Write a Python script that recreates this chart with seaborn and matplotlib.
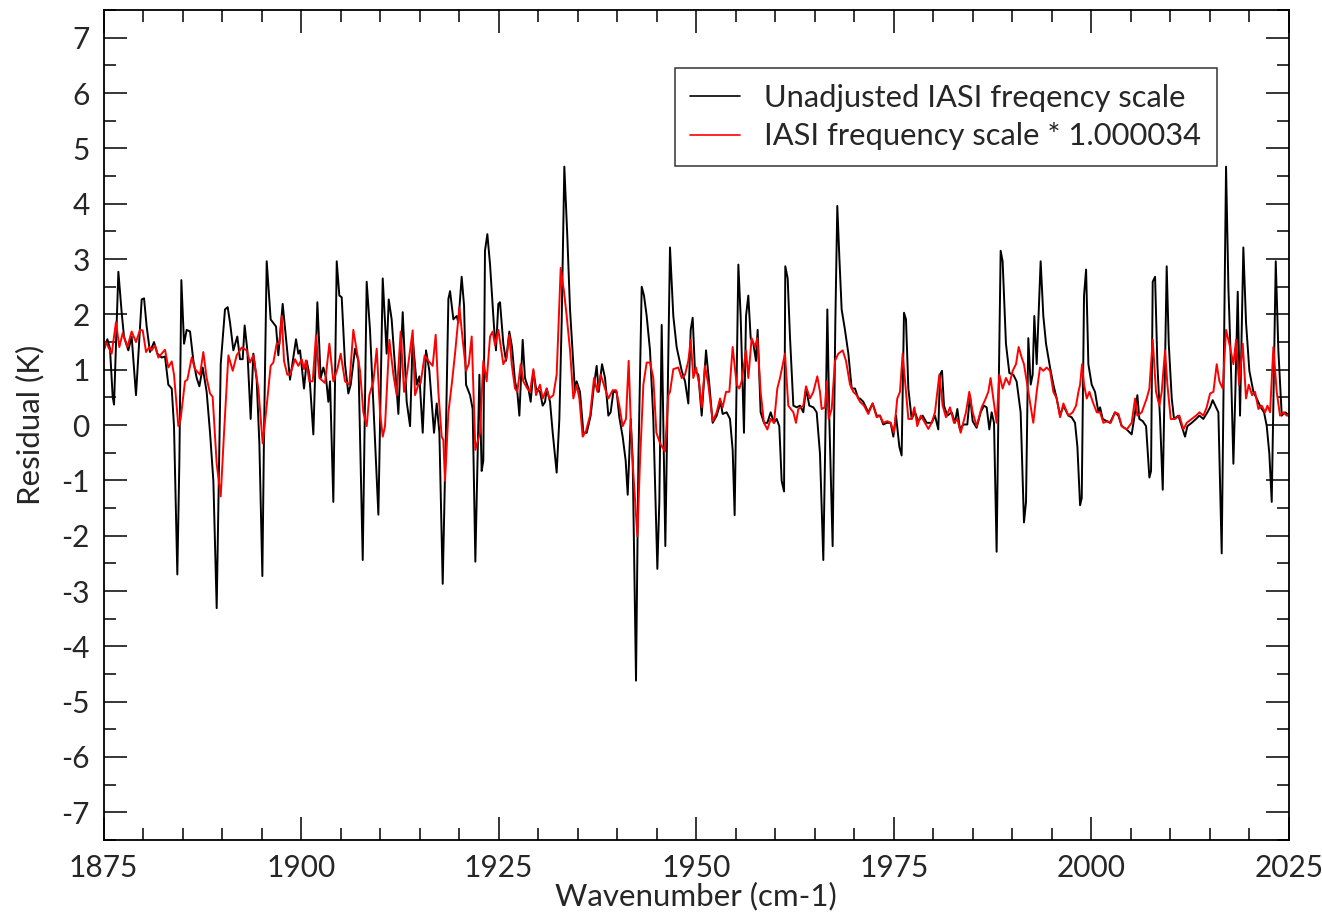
import numpy as np
import pandas as pd
import matplotlib
matplotlib.use('Agg')
import matplotlib.pyplot as plt
import seaborn as sns
from matplotlib.ticker import MultipleLocator

# Residuals (vertices of each trace)
black_wn = [
    1875.0, 1875.49, 1875.82, 1876.16, 1876.33, 1876.88, 1877.30, 1877.59, 1878.14, 1878.56,
    1879.11, 1879.83, 1880.13, 1880.46, 1880.88, 1881.39, 1881.81, 1882.36, 1882.78, 1883.20,
    1883.63, 1883.92, 1884.34, 1884.60, 1884.85, 1885.19, 1885.52, 1885.95, 1886.37, 1886.79,
    1887.13, 1887.55, 1888.05, 1888.48, 1888.90, 1889.32, 1889.83, 1890.37, 1890.71, 1891.01,
    1891.43, 1891.93, 1892.27, 1892.61, 1892.86, 1893.20, 1893.62, 1893.96, 1894.38, 1894.72,
    1895.10, 1895.31, 1895.65, 1896.15, 1896.83, 1897.12, 1897.67, 1898.09, 1898.60,
    1899.36, 1899.65, 1899.87, 1900.37, 1900.71, 1901.05, 1901.55, 1902.06, 1902.48, 1902.82,
    1903.16, 1903.45, 1903.66, 1904.08, 1904.51, 1904.84, 1905.14, 1905.56, 1905.98, 1906.28,
    1906.83, 1907.25, 1907.80, 1908.30, 1908.72, 1909.78, 1910.33, 1910.83, 1911.09, 1911.46,
    1912.31, 1912.86, 1913.36, 1913.79, 1914.12, 1914.63, 1914.97, 1915.39, 1915.81, 1916.23,
    1916.82, 1917.16, 1917.50, 1917.92, 1918.34, 1918.64, 1918.85, 1919.27, 1919.69, 1919.90,
    1920.32, 1920.62, 1920.87, 1921.38, 1921.71, 1922.05, 1922.56,
    1922.85, 1923.06, 1923.27, 1923.57, 1923.91, 1924.41, 1924.66, 1924.96, 1925.17, 1925.59,
    1925.93, 1926.35, 1926.69, 1927.07, 1927.36, 1927.62, 1928.04, 1928.33, 1928.76, 1929.05,
    1929.39, 1929.73, 1930.23, 1930.57, 1930.87, 1931.08, 1931.50, 1931.84, 1932.34, 1932.68,
    1932.97, 1933.31, 1933.69, 1934.03, 1934.37, 1934.66, 1934.87, 1935.29, 1935.72, 1936.14,
    1936.64, 1937.07, 1937.40, 1937.66, 1938.08, 1938.46, 1938.88, 1939.17, 1939.51, 1939.93,
    1940.27, 1940.69, 1941.07, 1941.33, 1941.71, 1941.96, 1942.38, 1942.68, 1943.10, 1943.39,
    1943.73, 1944.15, 1944.57, 1945.08, 1945.33, 1945.63, 1946.09, 1946.47,
    1946.68, 1947.10, 1947.52, 1948.16, 1948.58, 1949.00, 1949.30, 1949.55, 1949.84, 1950.27,
    1950.69, 1951.24, 1951.66, 1952.08, 1952.59, 1953.09, 1953.34, 1953.85, 1954.27, 1954.61,
    1954.86, 1955.12, 1955.33, 1955.62, 1956.04, 1956.30, 1956.59, 1956.89, 1957.23, 1957.56,
    1957.77, 1958.15, 1958.57, 1959.00, 1959.42, 1959.84, 1960.18, 1960.51, 1960.81, 1961.11,
    1961.27, 1961.57, 1961.86, 1962.29, 1962.71, 1963.13, 1963.55, 1963.89, 1964.31, 1964.82,
    1965.24, 1965.66, 1966.08, 1966.29, 1966.59, 1966.84, 1967.26, 1967.60, 1967.85, 1968.11,
    1968.40, 1968.82, 1969.25, 1969.67, 1970.09, 1970.51,
    1970.72, 1971.14, 1971.77, 1972.32, 1972.83, 1973.25, 1973.67, 1974.09, 1974.60, 1974.94,
    1975.28, 1975.70, 1975.99, 1976.29, 1976.54, 1976.84, 1977.26, 1977.68, 1978.10, 1978.65,
    1979.16, 1979.79, 1980.21, 1980.63, 1980.84, 1981.10, 1981.35, 1981.77, 1982.32, 1982.74,
    1983.04, 1983.37, 1983.80, 1984.30, 1984.64, 1984.98, 1985.48, 1985.99, 1986.41, 1986.75,
    1987.09, 1987.38, 1987.68, 1988.01, 1988.27, 1988.52, 1988.77, 1989.19, 1989.62, 1990.12,
    1990.54, 1991.05, 1991.47, 1991.73, 1992.02, 1992.32, 1992.57, 1992.78, 1993.08, 1993.58,
    1993.92, 1994.26,
    1994.77, 1995.19, 1995.61, 1996.04, 1996.46, 1997.09, 1997.51, 1997.93, 1998.23, 1998.57,
    1998.78, 1999.07, 1999.33, 1999.62, 2000.04, 2000.46, 2000.89, 2001.10, 2001.43, 2001.94,
    2002.36, 2002.99, 2003.42, 2003.84, 2004.47, 2005.10, 2005.53, 2005.82, 2006.07, 2006.50,
    2006.92, 2007.34, 2007.55, 2007.76, 2008.06, 2008.35, 2008.69, 2009.03, 2009.32, 2009.53,
    2009.79, 2010.17, 2010.46, 2011.01, 2011.43, 2011.85, 2012.15, 2012.70, 2013.24, 2013.67,
    2014.17, 2014.68, 2015.02, 2015.35, 2015.78, 2016.07, 2016.49, 2016.79, 2017.04, 2017.34,
    2017.63, 2017.97, 2018.22, 2018.52, 2018.81, 2019.23, 2019.57, 2019.99, 2020.50, 2020.92,
    2021.43, 2021.85, 2022.19, 2022.52, 2022.82, 2023.12, 2023.33, 2023.66, 2024.09, 2024.51,
    2024.80, 2025.0,
]
black_res = [
    1.35, 1.55, 1.38, 0.51, 0.37, 2.77, 2.03, 1.60, 1.35, 1.60,
    0.54, 2.27, 2.29, 1.78, 1.32, 1.50, 1.29, 1.22, 1.24, 0.73,
    0.66, -0.02, -2.70, -0.64, 2.62, 1.47, 1.72, 1.69, 1.16, 0.85,
    0.70, 1.04, 0.60, -0.14, -1.01, -3.31, 1.10, 2.09, 2.13, 1.85,
    1.35, 1.60, 1.19, 1.19, 1.80, 1.35, 0.11, 1.29, 0.82, -0.33,
    -2.73, -0.14, 2.96, 1.91, 1.78, 1.26, 2.19, 1.57, 0.82,
    1.55, 1.29, 1.35, 0.66, 1.16, 0.91, -0.17, 2.22, 0.85, 1.04,
    0.85, 0.42, 0.79, -1.39, 2.96, 2.34, 2.31, 1.10, 0.57, 0.73,
    1.38, 1.16, -2.44, 2.59, 1.72, -1.62, 2.65, 1.29, 2.27, 1.91,
    0.20, 2.04, 0.42, -0.02, 1.57, 0.73, 0.88, -0.14, 1.35, 0.98,
    -0.14, 0.39, -0.14, -2.87, -0.02, 2.28, 2.42, 1.91, 1.97, 1.85,
    2.68, 2.16, 0.73, 0.54, 0.29, -2.47, 0.91,
    -0.83, -0.64, 3.15, 3.45, 2.90, 1.78, 1.35, 2.19, 2.22, 1.47,
    1.16, 1.69, 1.41, 0.79, 0.60, 0.17, 1.54, 0.85, 0.66, 0.42,
    0.98, 0.66, 0.60, 0.35, 0.42, 0.66, 0.42, -0.14, -0.86, 0.11,
    1.85, 4.67, 3.40, 2.09, 1.29, 0.60, 0.79, 0.60, -0.14, -0.14,
    0.17, 0.73, 1.07, 0.60, 1.10, 0.85, 0.17, 0.23, 0.60, 0.60,
    0.14, -0.21, -0.64, -1.26, 0.11, -0.64, -4.62, -0.64, 2.50, 2.34,
    1.97, 1.35, 0.11, -2.60, -1.39, 1.81, -2.19, 1.22,
    3.21, 1.97, 1.41, 0.98, 0.79, 0.39, 1.72, 1.94, 0.98, 0.91,
    0.17, 1.35, 0.73, 0.04, 0.17, 0.42, 0.20, 0.23, 0.11, -0.45,
    -1.63, 0.91, 2.90, 1.97, -0.14, 1.97, 2.34, 1.57, 1.47, 1.16,
    1.72, 0.23, 0.04, 0.04, 0.23, 0.04, 0.11, -0.02, -1.01, -1.20,
    2.87, 2.65, 1.60, 0.35, 0.32, 0.35, 0.23, 0.66, 0.35, 0.32,
    0.23, -0.52, -2.44, -0.64, 2.09, 0.11, -2.19, 1.85, 3.96, 3.03,
    2.09, 1.72, 1.29, 0.66, 0.66, 0.48,
    0.48, 0.42, 0.23, 0.39, 0.17, 0.17, 0.01, 0.04, 0.04, -0.21,
    0.17, -0.39, -0.55, 2.03, 1.91, 0.66, 0.11, 0.23, 0.07, 0.17,
    0.04, 0.04, 0.17, -0.08, 0.91, 0.98, 0.35, 0.17, 0.23, 0.04,
    0.29, -0.08, 0.01, 0.01, 0.54, 0.07, -0.05, 0.23, 0.35, 0.32,
    -0.08, 0.23, 0.04, -2.29, 0.60, 3.15, 2.96, 1.47, 0.94, 0.91,
    0.79, 0.23, -1.76, -1.39, 1.57, 0.73, 0.91, 1.97, 1.10, 2.96,
    1.97, 1.47,
    1.04, 0.73, 0.48, 0.17, 0.35, 0.17, 0.14, 0.04, -0.39, -1.45,
    -1.32, 2.34, 2.81, 1.10, 0.73, 0.60, 0.23, 0.32, 0.11, 0.07,
    0.04, 0.23, 0.17, -0.02, -0.08, -0.17, 0.23, 0.54, 0.11, 0.07,
    -0.02, -0.95, -0.83, 2.59, 2.68, 1.10, 0.11, -1.17, 1.10, 2.87,
    1.47, 0.48, 0.11, 0.17, -0.02, -0.21, -0.02, 0.04, 0.11, 0.17,
    0.11, 0.23, 0.32, 0.45, 0.32, 0.23, -2.32, 1.54, 4.67, 2.47,
    1.22, -0.70, 0.60, 2.41, 0.17, 3.21, 1.85, 0.98, 0.60, 0.48,
    0.32, 0.23, -0.02, -0.52, -1.39, 1.22, 2.96, 1.35, 0.17, 0.23,
    0.20, 0.15,
]

red_wn = [
    1875.0, 1875.32, 1875.61, 1876.03, 1876.58, 1877.00, 1877.42, 1878.02, 1878.56, 1879.11,
    1879.62, 1879.96, 1880.38, 1880.80, 1881.09, 1881.52, 1881.94, 1882.78, 1883.20, 1883.63,
    1883.92, 1884.47, 1884.76, 1885.31, 1885.61, 1886.16, 1886.58, 1887.21, 1887.63, 1888.05,
    1888.48, 1888.81, 1889.32, 1889.83, 1890.25, 1890.80, 1891.35, 1891.85, 1892.48, 1893.12,
    1893.54, 1893.96, 1894.59, 1895.14, 1895.65, 1896.15, 1896.49, 1896.91, 1897.25, 1897.55,
    1897.84, 1898.26,
    1898.60, 1899.23, 1899.65, 1900.08, 1900.37, 1900.62, 1901.05, 1901.47, 1901.89, 1902.31,
    1903.03, 1903.58, 1904.08, 1904.59, 1905.01, 1905.56, 1906.11, 1906.61, 1907.04, 1907.46,
    1907.88, 1908.30, 1908.64, 1909.15, 1909.57, 1909.99, 1910.33, 1910.62, 1911.17, 1911.68,
    1912.10, 1912.60, 1913.03, 1913.45, 1914.12, 1914.42, 1914.84, 1915.13, 1915.64, 1916.10,
    1916.65, 1917.03, 1917.37, 1917.79, 1918.00, 1918.21, 1918.64, 1919.06, 1919.48, 1920.03,
    1920.45, 1920.87, 1921.21, 1921.59, 1922.05,
    1922.64, 1923.06, 1923.48, 1923.91, 1924.24, 1924.54, 1924.96, 1925.59, 1926.01, 1926.35,
    1926.65, 1927.07, 1927.36, 1927.79, 1928.12, 1928.63, 1928.97, 1929.39, 1929.73, 1930.23,
    1930.57, 1931.08, 1931.41, 1931.92, 1932.34, 1932.85, 1933.27, 1933.61, 1934.03, 1934.45,
    1934.87, 1935.21, 1935.63, 1936.05, 1936.56, 1937.07, 1937.49, 1937.91, 1938.46, 1938.88,
    1939.43, 1939.85, 1940.27, 1940.69, 1941.11, 1941.45, 1941.83, 1942.55, 1942.89, 1943.31,
    1943.73, 1944.15, 1944.57, 1944.96, 1945.42, 1946.05, 1946.47,
    1946.68, 1947.10, 1947.73, 1948.16, 1948.58, 1949.00, 1949.30, 1949.63, 1949.97, 1950.39,
    1950.69, 1951.11, 1951.53, 1952.08, 1952.59, 1953.01, 1953.34, 1953.77, 1954.19, 1954.61,
    1955.12, 1955.45, 1955.75, 1956.30, 1956.59, 1957.01, 1957.44, 1957.73, 1958.15, 1958.57,
    1959.00, 1959.42, 1959.84, 1960.26, 1960.60, 1961.23, 1961.65, 1962.29, 1962.62, 1962.92,
    1963.55, 1963.89, 1964.40, 1964.82, 1965.32, 1965.66, 1965.87, 1966.29, 1966.50, 1966.76,
    1967.14, 1967.56, 1967.98, 1968.53, 1968.95, 1969.46, 1969.88, 1970.30,
    1970.72, 1971.23, 1971.77, 1972.32, 1972.83, 1973.25, 1973.67, 1974.18, 1974.60, 1975.02,
    1975.44, 1975.78, 1976.12, 1976.46, 1976.84, 1977.26, 1977.60, 1977.97, 1978.40, 1978.82,
    1979.37, 1979.79, 1980.21, 1980.76, 1981.18, 1981.60, 1982.11, 1982.61, 1983.04, 1983.46,
    1984.13, 1984.55, 1984.98, 1985.48, 1986.12, 1986.54, 1986.96, 1987.25, 1987.59, 1988.01,
    1988.35, 1988.77, 1989.19, 1989.62, 1990.04, 1990.46, 1990.80, 1991.18, 1991.47, 1992.02,
    1992.65, 1993.08, 1993.50, 1993.92, 1994.34,
    1994.77, 1995.19, 1995.61, 1996.04, 1996.46, 1997.09, 1997.64, 1998.06, 1998.36, 1998.57,
    1998.82, 1999.07, 1999.41, 1999.75, 2000.17, 2000.68, 2001.10, 2001.52, 2002.03, 2002.45,
    2002.99, 2003.42, 2003.84, 2004.47, 2005.10, 2005.53, 2005.82, 2006.37, 2007.00, 2007.34,
    2007.76, 2008.18, 2008.60, 2008.90, 2009.32, 2009.62, 2010.04, 2010.59, 2011.14, 2011.64,
    2012.06, 2012.70, 2013.24, 2013.67, 2014.17, 2014.59, 2015.02, 2015.44, 2015.86, 2016.20,
    2016.62, 2017.04, 2017.55, 2017.97, 2018.31, 2018.69, 2019.15, 2019.57, 2019.91, 2020.33,
    2020.71, 2021.13, 2021.56, 2021.98, 2022.27, 2022.61, 2023.03, 2023.45, 2023.87, 2024.30,
    2024.72, 2025.0,
]
red_res = [
    1.32, 1.50, 1.41, 1.29, 1.86, 1.41, 1.66, 1.41, 1.69, 1.50,
    1.72, 1.71, 1.32, 1.41, 1.35, 1.44, 1.22, 1.36, 1.04, 1.15,
    0.91, -0.02, 0.11, 0.79, 0.82, 1.22, 1.01, 0.91, 1.32, 0.85,
    0.57, 0.51, -0.70, -1.29, -0.14, 1.26, 0.98, 1.26, 1.40, 1.35,
    1.13, 1.26, 0.66, -0.33, 0.35, 1.07, 1.13, 1.47, 1.47, 1.97,
    1.16, 0.91,
    0.91, 1.19, 1.07, 1.19, 1.01, 1.17, 0.79, 0.79, 1.63, 0.85,
    0.76, 1.47, 0.79, 1.01, 1.29, 0.79, 0.73, 1.72, 1.35, 0.98,
    0.23, -0.02, 0.54, 0.79, 1.38, 0.23, -0.21, -0.02, 1.54, 0.91,
    0.54, 1.69, 0.60, 0.98, 1.71, 0.54, 0.73, 0.76, 1.26, 1.16,
    1.07, 1.63, 0.60, -0.21, -0.27, -1.01, 0.23, 0.73, 1.29, 2.13,
    1.54, 0.98, 1.10, 1.60, -0.45,
    -0.14, 1.16, 0.79, 1.60, 1.69, 1.44, 1.72, 1.10, 1.22, 1.63,
    1.10, 0.66, 0.60, 1.10, 0.79, 0.66, 0.60, 1.01, 0.54, 0.73,
    0.48, 0.66, 0.48, 0.54, 0.91, 2.84, 2.41, 1.97, 1.35, 0.48,
    0.73, 0.48, -0.21, -0.11, 0.17, 0.85, 0.60, 0.91, 0.66, 0.48,
    0.63, 0.63, 0.35, -0.02, 0.11, 1.16, -0.39, -2.01, -0.64, 0.73,
    1.13, 1.13, 0.85, -0.14, -0.33, -0.48, 0.54,
    0.60, 1.01, 1.04, 0.85, 0.91, 1.16, 1.54, 0.85, 1.04, 0.73,
    0.32, 1.07, 0.73, 0.07, 0.23, 0.48, 0.32, 0.60, 0.60, 1.41,
    0.73, 0.66, 0.79, 1.35, 0.85, 1.57, 1.41, 1.57, 0.60, 0.04,
    -0.08, 0.11, 0.04, 0.66, 0.85, 1.29, 0.35, 0.23, 0.04, 0.29,
    0.35, 0.70, 0.48, 0.60, 0.88, 0.60, 0.29, 0.32, 0.79, 0.11,
    0.29, 1.16, 1.29, 1.35, 1.16, 0.73, 0.60, 0.54,
    0.42, 0.35, 0.20, 0.39, 0.14, 0.17, 0.04, 0.07, 0.04, -0.14,
    0.48, 0.60, 1.29, 0.73, 0.11, 0.11, 0.32, -0.02, 0.17, 0.07,
    -0.07, 0.04, 0.23, 0.91, 0.35, 0.14, 0.32, 0.04, 0.11, -0.14,
    0.23, 0.60, 0.23, -0.02, 0.32, 0.45, 0.60, 0.85, 0.48, 0.04,
    0.91, 0.66, 0.85, 0.73, 0.98, 1.10, 1.41, 1.22, 1.10, 0.60,
    0.04, 0.60, 1.04, 0.98, 1.04,
    0.98, 0.60, 0.48, 0.14, 0.39, 0.17, 0.23, 0.35, 0.60, 0.73,
    1.10, 0.73, 0.48, 0.60, 0.42, 0.23, 0.23, 0.04, 0.07, 0.04,
    0.23, 0.20, -0.02, -0.08, 0.04, 0.48, 0.17, 0.23, 0.48, 0.66,
    1.54, 0.60, 0.35, 0.60, 1.35, 0.73, 0.11, 0.11, 0.17, -0.08,
    0.04, 0.11, 0.17, 0.23, 0.17, 0.32, 0.57, 0.60, 1.10, 0.79,
    0.66, 1.72, 1.41, 1.10, 1.54, 0.73, 1.47, 0.48, 0.73, 0.54,
    0.60, 0.29, 0.35, 0.23, 0.35, 0.23, 1.41, 0.60, 0.17, 0.23,
    0.17, 0.20,
]

labels = ['Unadjusted IASI freqency scale', 'IASI frequency scale * 1.000034']

black_df = pd.DataFrame({'wn': black_wn, 'res': black_res})
red_df = pd.DataFrame({'wn': red_wn, 'res': red_res})

sns.set_style('ticks')
plt.rcParams['font.family'] = ['Lato', 'DejaVu Sans']
plt.rcParams['axes.unicode_minus'] = False

fig = plt.figure(figsize=(13.22, 9.18), dpi=100)
ax = fig.add_axes([0.0783, 0.085, 0.8967, 0.904])

sns.lineplot(data=black_df, x='wn', y='res', color='black', lw=1.4,
             estimator=None, sort=False, label=labels[0], ax=ax)
sns.lineplot(data=red_df, x='wn', y='res', color='#ff0000', lw=1.4,
             estimator=None, sort=False, label=labels[1], ax=ax)

ax.set_xlim(1875, 2025)
ax.set_ylim(-7.5, 7.5)
ax.xaxis.set_major_locator(MultipleLocator(25))
ax.xaxis.set_minor_locator(MultipleLocator(5))
ax.yaxis.set_major_locator(MultipleLocator(1))
ax.yaxis.set_minor_locator(MultipleLocator(0.5))
ax.tick_params(which='both', direction='in', top=True, right=True,
               width=1.1, color='black', labelsize=21.5, pad=10)
ax.tick_params(which='major', length=16.5)
ax.tick_params(which='minor', length=8.5)
for sp in ax.spines.values():
    sp.set_linewidth(1.3)
    sp.set_color('black')

ax.set_xlabel('Wavenumber (cm-1)', fontsize=22.5, labelpad=0)
ax.set_ylabel('Residual (K)', fontsize=22.5, labelpad=12)

leg = ax.legend(loc='upper right', bbox_to_anchor=(0.939, 0.930), fontsize=22.2,
                frameon=True, fancybox=False, handlelength=1.6, handletextpad=0.8,
                borderpad=0.5, labelspacing=0.35, borderaxespad=0)
leg.get_frame().set_edgecolor('black')
leg.get_frame().set_linewidth(1.1)
for line in leg.get_lines():
    line.set_linewidth(1.2)

fig.savefig('out.png', dpi=100)
